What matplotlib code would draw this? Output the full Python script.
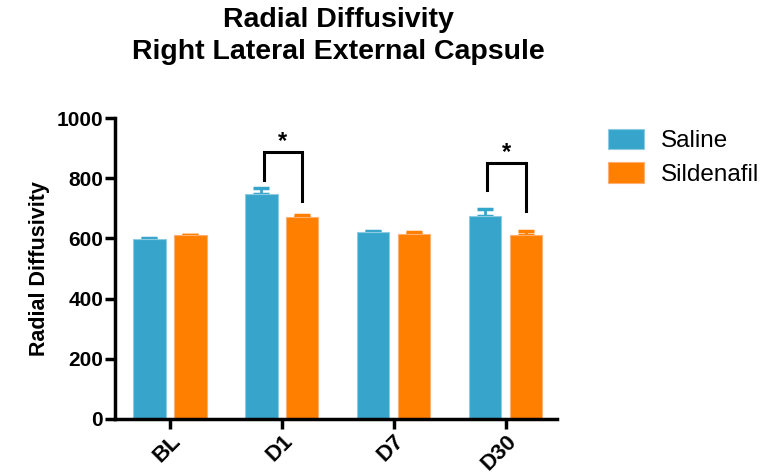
import matplotlib
matplotlib.use("Agg")
import matplotlib.pyplot as plt
import numpy as np

plt.rcParams["font.family"] = ["Liberation Sans", "DejaVu Sans"]

categories = ["BL", "D1", "D7", "D30"]
saline = [598, 746, 622, 674]
saline_err = [3, 20, 4, 25]
sildenafil = [610, 672, 614, 611]
sildenafil_err = [2, 5, 8, 12]
series_names = ["Saline", "Sildenafil"]
yticks = [0, 200, 400, 600, 800, 1000]

c_sal = "#37A5CB"
c_sil = "#FF7F00"

fig = plt.figure(figsize=(7.64, 4.73), dpi=100)
ax = fig.add_axes([0.1505, 0.1142, 0.578, 0.6363])

x = np.arange(len(categories))
w = 0.29
off = 0.183
ax.bar(x - off, saline, w, color=c_sal, edgecolor="#8fcbe0", linewidth=0.8, label=series_names[0], zorder=2)
ax.bar(x + off, sildenafil, w, color=c_sil, edgecolor="#ffb070", linewidth=0.8, label=series_names[1], zorder=2)
ax.errorbar(x - off, saline, yerr=[np.zeros(4), saline_err], fmt="none", ecolor=c_sal, elinewidth=2, capsize=6, capthick=2.5, zorder=1)
ax.errorbar(x + off, sildenafil, yerr=[np.zeros(4), sildenafil_err], fmt="none", ecolor=c_sil, elinewidth=2, capsize=6, capthick=2.5, zorder=1)

# significance brackets
def bracket(i, ytop, yl, yr, ystar):
    xl, xr = i - off + 0.02, i + off + 0.0
    ax.plot([xl, xl, xr, xr], [yl, ytop, ytop, yr], color="black", lw=2.2, solid_joinstyle="miter", zorder=3)
    ax.text((xl + xr) / 2, ystar, "*", ha="center", va="center", fontsize=17, fontweight="bold")

bracket(1, 886, 794, 725, 922)
bracket(3, 849, 761, 691, 885)

ax.set_xlim(-0.49, 3.455)
ax.set_ylim(0, 1000)
ax.set_yticks(yticks)
ax.set_yticklabels([str(t) for t in yticks], fontsize=15, fontweight="bold")
ax.set_xticks(x)
ax.set_xticklabels(categories, rotation=45, ha="right", rotation_mode="anchor", fontsize=16, fontweight="bold")
ax.set_ylabel("Radial Diffusivity", fontsize=15.5, fontweight="bold", labelpad=5)

for s in ["top", "right"]:
    ax.spines[s].set_visible(False)
for s in ["left", "bottom"]:
    ax.spines[s].set_linewidth(2.5)
ax.tick_params(axis="both", width=2.5, length=7, direction="out", pad=1.5)

fig.suptitle("Radial Diffusivity\nRight Lateral External Capsule", x=0.443, y=0.985, fontsize=20.5, fontweight="bold", linespacing=1.3)

leg = fig.legend(loc="upper left", bbox_to_anchor=(0.796, 0.728), frameon=False, fontsize=17.5,
                 handlelength=1.48, handleheight=0.9, handletextpad=0.7, labelspacing=0.42,
                 borderaxespad=0, borderpad=0)

fig.savefig("out.png", dpi=100)
